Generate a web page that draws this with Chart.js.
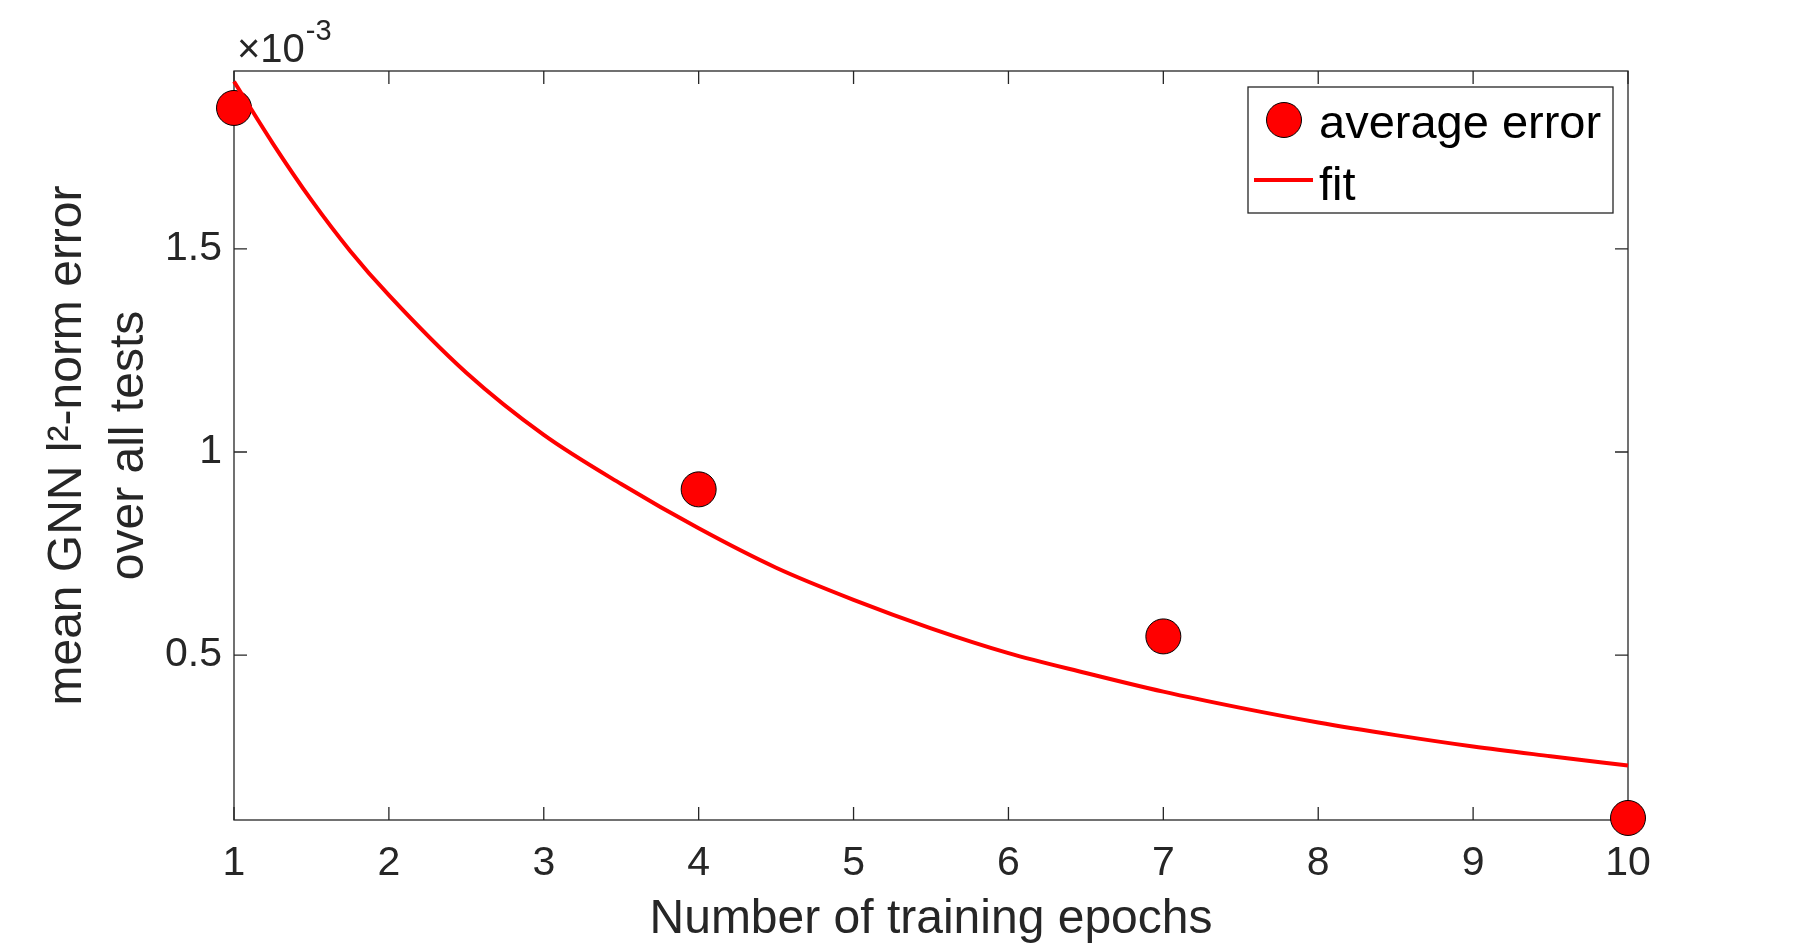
<!DOCTYPE html>
<html>
<head>
<meta charset="utf-8">
<title>GNN error vs training epochs</title>
<script src="https://cdn.jsdelivr.net/npm/chart.js@4.4.1/dist/chart.umd.min.js"></script>
<style>
  html, body { margin: 0; padding: 0; background: #fff; }
  #wrap { width: 1800px; height: 949px; position: relative; }
</style>
</head>
<body>
<div id="wrap"><canvas id="errChart"></canvas></div>
<script>
// values, y in units of 1e-3
const epochs = [1, 4, 7, 10];
const avgError = [1.847, 0.908, 0.546, 0.099];

const fitX = [1, 1.25, 1.5, 1.75, 2, 2.5, 3, 3.5, 4, 4.5, 5, 5.5, 6, 6.5, 7, 7.5, 8, 8.5, 9, 9.5, 10];
const fitY = [1.912, 1.76, 1.62, 1.495, 1.386, 1.195, 1.042, 0.921, 0.812, 0.715, 0.636, 0.566, 0.505, 0.456, 0.41, 0.37, 0.334, 0.303, 0.275, 0.251, 0.228];

const xTicks = [1, 2, 3, 4, 5, 6, 7, 8, 9, 10];
const yTicks = [0.5, 1, 1.5];
const yTickLabels = ['0.5', '1', '1.5'];

const axisColor = '#262626';
const fontFam = '"Liberation Sans", Arial, Helvetica, sans-serif';
Chart.defaults.font.family = fontFam;

// MATLAB style box with inward ticks on all four sides
const boxPlugin = {
    id: 'matlabBox',
    beforeDatasetsDraw(chart) {
        const {ctx, chartArea: a, scales} = chart;
        const tl = 13;
        ctx.save();
        ctx.strokeStyle = axisColor;
        ctx.lineWidth = 1.3;
        ctx.strokeRect(a.left, a.top, a.right - a.left, a.bottom - a.top);
        ctx.beginPath();
        scales.x.ticks.forEach(t => {
            const px = scales.x.getPixelForValue(t.value);
            ctx.moveTo(px, a.bottom); ctx.lineTo(px, a.bottom - tl);
            ctx.moveTo(px, a.top); ctx.lineTo(px, a.top + tl);
        });
        scales.y.ticks.forEach(t => {
            const py = scales.y.getPixelForValue(t.value);
            ctx.moveTo(a.left, py); ctx.lineTo(a.left + tl, py);
            ctx.moveTo(a.right, py); ctx.lineTo(a.right - tl, py);
        });
        ctx.stroke();
        ctx.restore();
    },
    afterDraw(chart) {
        const {ctx, chartArea: a} = chart;
        ctx.save();
        // exponent label
        ctx.fillStyle = axisColor;
        ctx.textBaseline = 'alphabetic';
        ctx.font = '40px ' + fontFam;
        ctx.fillText('\u00d710', a.left + 3, 62);
        const w = ctx.measureText('\u00d710').width;
        ctx.font = '29px ' + fontFam;
        ctx.fillText('-3', a.left + 3 + w + 1, 40);

        // legend inside the axes, top right
        const ds = chart.data.datasets;
        const bx = 1248, by = 87, bw = 365, bh = 126;
        ctx.fillStyle = '#fff';
        ctx.fillRect(bx, by, bw, bh);
        ctx.strokeStyle = axisColor;
        ctx.lineWidth = 1.3;
        ctx.strokeRect(bx, by, bw, bh);

        ctx.font = '47px ' + fontFam;
        // marker entry
        ctx.beginPath();
        ctx.arc(bx + 36, by + 33, ds[0].pointRadius, 0, Math.PI * 2);
        ctx.fillStyle = ds[0].backgroundColor;
        ctx.fill();
        ctx.lineWidth = ds[0].borderWidth;
        ctx.strokeStyle = ds[0].borderColor;
        ctx.stroke();
        ctx.fillStyle = '#000';
        ctx.fillText(ds[0].label, bx + 71, by + 51);
        // line entry
        ctx.beginPath();
        ctx.moveTo(bx + 6, by + 93);
        ctx.lineTo(bx + 65, by + 93);
        ctx.lineWidth = ds[1].borderWidth;
        ctx.strokeStyle = ds[1].borderColor;
        ctx.stroke();
        ctx.fillText(ds[1].label, bx + 71, by + 113);
        ctx.restore();
    }
};

const ctx = document.getElementById('errChart').getContext('2d');

const errChart = new Chart(ctx, {
    type: 'scatter',
    data: {
        datasets: [{
            label: 'average error',
            data: epochs.map((e, i) => ({x: e, y: avgError[i]})),
            pointRadius: 17.5,
            pointHoverRadius: 17.5,
            backgroundColor: '#ff0000',
            borderColor: '#000000',
            borderWidth: 1,
            clip: false,
            order: 2
        }, {
            label: 'fit',
            data: fitX.map((e, i) => ({x: e, y: fitY[i]})),
            showLine: true,
            borderColor: '#ff0000',
            backgroundColor: '#ff0000',
            borderWidth: 4,
            pointRadius: 0,
            cubicInterpolationMode: 'monotone',
            clip: false,
            order: 1
        }]
    },
    options: {
        responsive: true,
        maintainAspectRatio: false,
        devicePixelRatio: 1,
        animation: false,
        layout: {
            padding: {left: 0, right: 172, top: 71, bottom: 0}
        },
        scales: {
            x: {
                type: 'linear',
                min: 1,
                max: 10,
                afterBuildTicks: s => { s.ticks = xTicks.map(v => ({value: v})); },
                afterFit: s => { s.height = 129; },
                grid: {display: false},
                border: {display: false},
                ticks: {
                    color: axisColor,
                    font: {size: 41},
                    padding: 11,
                    maxRotation: 0,
                    autoSkip: false,
                    callback: v => String(v)
                },
                title: {
                    display: true,
                    text: 'Number of training epochs',
                    color: axisColor,
                    font: {size: 48, lineHeight: 1.2},
                    padding: {top: 0, bottom: 0}
                }
            },
            y: {
                type: 'linear',
                min: 0.094,
                max: 1.938,
                afterBuildTicks: s => { s.ticks = yTicks.map(v => ({value: v})); },
                afterFit: s => { s.width = 234; },
                grid: {display: false},
                border: {display: false},
                ticks: {
                    color: axisColor,
                    font: {size: 41},
                    padding: 4,
                    autoSkip: false,
                    callback: v => yTickLabels[yTicks.indexOf(v)]
                },
                title: {
                    display: true,
                    text: ['mean GNN l\u00b2-norm error', 'over all tests'],
                    color: axisColor,
                    font: {size: 48, lineHeight: 1.29},
                    padding: {top: 37, bottom: 0}
                }
            }
        },
        plugins: {
            legend: {display: false},
            tooltip: {enabled: false}
        }
    },
    plugins: [boxPlugin]
});
</script>
</body>
</html>
